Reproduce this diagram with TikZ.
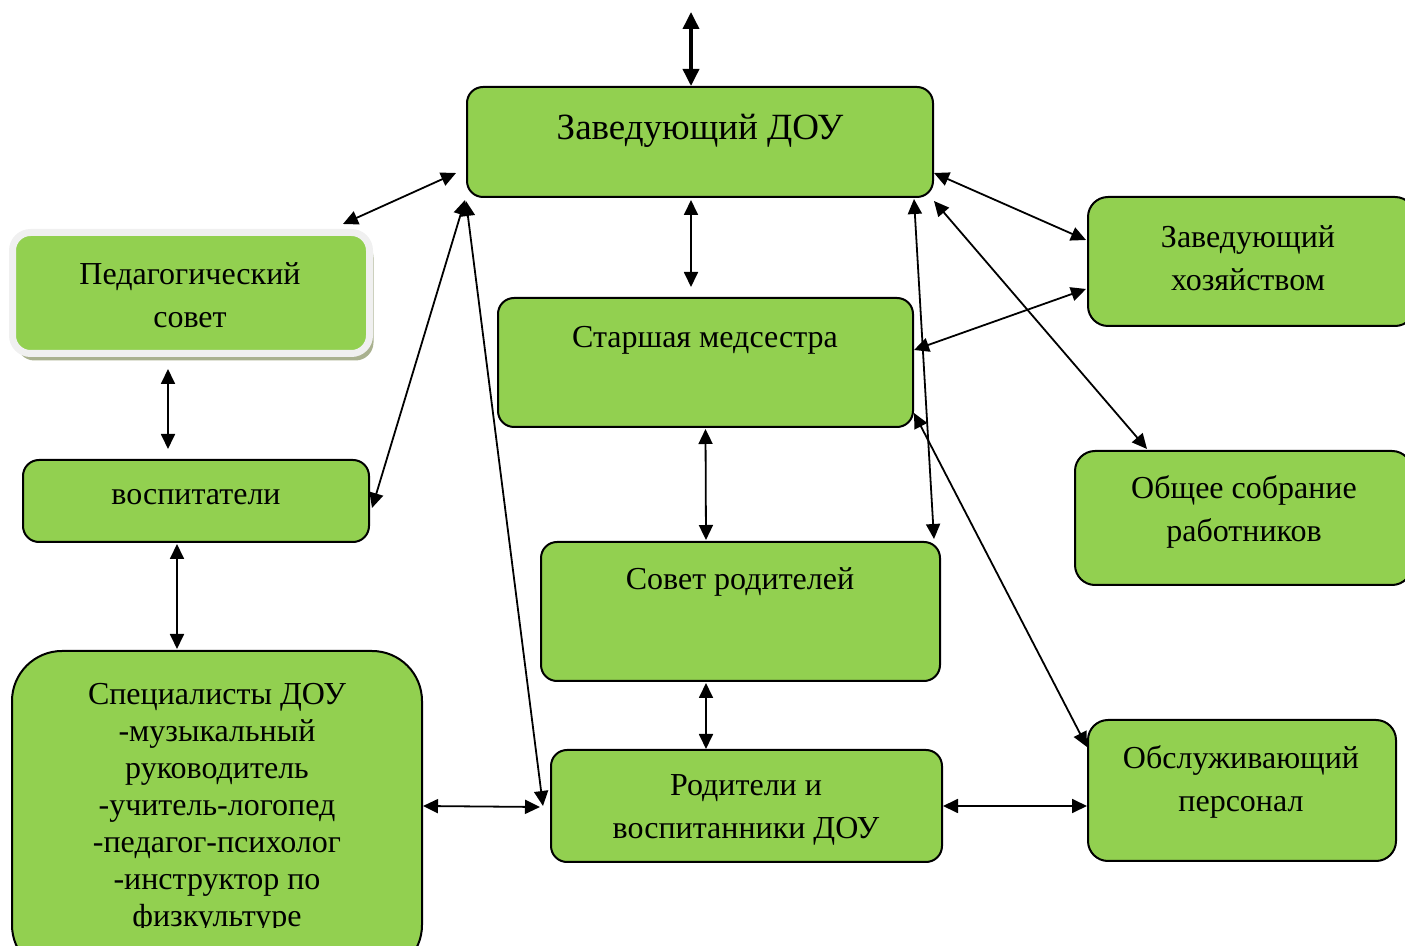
\documentclass[tikz,border=0pt]{standalone}
\usepackage{fontspec}
\setmainfont{Liberation Serif}
\usetikzlibrary{arrows.meta,calc,shadows}
\definecolor{boxgreen}{HTML}{92D050}
\definecolor{pedframe}{HTML}{F0F0F0}
\definecolor{pedshadow}{HTML}{A9B18F}
\tikzset{
  box/.style={draw=black, line width=1pt, fill=boxgreen, rounded corners=8pt, inner sep=0pt},
  txt/.style={align=center, inner sep=0pt, font=\fontsize{16}{21.5}\selectfont},
  link/.style={line width=0.9pt, {Triangle[length=7.5pt,width=7pt]}-{Triangle[length=7.5pt,width=7pt]}},
  thicklink/.style={line width=1.8pt, {Triangle[length=8.5pt,width=8pt]}-{Triangle[length=8.5pt,width=8pt]}}
}
\begin{document}
\begin{tikzpicture}[x=0.5pt,y=-0.5pt]
\useasboundingbox (0,0) rectangle (1405,946);
\clip (0,0) rectangle (1405,946);
% boxes
\node[box, minimum width=233pt, minimum height=55pt] (zav) at (700,142) {};
\node[fill=boxgreen, draw=pedframe, line width=3.5pt, rounded corners=9pt, inner sep=0pt,
      minimum width=178.5pt, minimum height=60.5pt,
      drop shadow={shadow xshift=2pt, shadow yshift=-3.5pt, fill=pedshadow, opacity=1}] (ped) at (191,293) {};
\node[box, minimum width=173pt, minimum height=41pt] (vosp) at (196,501) {};
\node[box, rounded corners=25pt, minimum width=205pt, minimum height=162pt] (spec) at (217,813) {};
\node[box, minimum width=207.5pt, minimum height=64.5pt] (med) at (705.5,362.5) {};
\node[box, minimum width=199.5pt, minimum height=69.5pt] (sov) at (740.5,611.5) {};
\node[box, minimum width=195.5pt, minimum height=56pt] (rod) at (746.5,806) {};
\node[box, rounded corners=10pt, minimum width=163.5pt, minimum height=64.5pt] (hoz) at (1251.5,261.5) {};
\node[box, rounded corners=10pt, minimum width=168.5pt, minimum height=67pt] (obs) at (1243.5,518) {};
\node[box, rounded corners=10pt, minimum width=154pt, minimum height=70.5pt] (obsl) at (1242,790.5) {};
% texts
\node[txt, font=\fontsize{18.5}{22}\selectfont] (tzav) at (700,131) {Заведующий ДОУ};
\node[txt] (tped) at (190,295) {Педагогический\\совет};
\node[txt] (tvosp) at (196,497) {воспитатели};
\node[txt] (tmed) at (705,340) {Старшая медсестра};
\node[txt] (tsov) at (740,582) {Совет родителей};
\node[txt] (trod) at (746,810) {Родители и\\воспитанники ДОУ};
\node[txt] (thoz) at (1248,258) {Заведующий\\хозяйством};
\node[txt] (tobs) at (1244,512) {Общее собрание\\работников};
\node[txt] (tobsl) at (1241,782) {Обслуживающий\\персонал};
\begin{scope}
\clip (0,640) rectangle (440,928);
\node[txt, font=\fontsize{16}{18.5}\selectfont] (tspec) at (217,808) {Специалисты ДОУ\\-музыкальный\\руководитель\\-учитель-логопед\\-педагог-психолог\\-инструктор по\\физкультуре};
\end{scope}
% connectors
\coordinate (top) at (691,12);
\draw[thicklink] (top) -- ($(zav.north)+(-9,0)$);
\draw[link] ($(zav.south west)+(-10,-25)$) -- ($(ped.north east)+(-30,-5)$);
\draw[link] ($(zav.south)+(-9,2)$) -- ($(med.north)+(-14.5,-10)$);
\draw[link] ($(zav.south west)+(-1,2)$) -- ($(vosp.east)+(2,7)$);
\draw[link] ($(zav.south west)+(0,3)$) -- ($(rod.west)+(-7,0)$);
\draw[link] ($(zav.south east)+(-20,1)$) -- ($(sov.north east)+(-7,-2)$);
\draw[link] ($(zav.south east)+(0,-25)$) -- ($(hoz.west)+(-1,-21.5)$);
\draw[link] ($(zav.south east)+(0,3)$) -- ($(obs.north west)+(73,-1)$);
\draw[link] ($(med.east)+(0,-12.5)$) -- ($(hoz.west)+(-1,27.5)$);
\draw[link] ($(med.south east)+(0,-15)$) -- ($(obsl.north west)+(0,28)$);
\draw[link] ($(ped.south)+(-23,12)$) -- ($(vosp.north)+(-28,-10)$);
\draw[link] ($(vosp.south)+(-19,1)$) -- ($(spec.north)+(-40,-1)$);
\draw[link] ($(med.south)+(0,1)$) -- ($(sov.north)+(-34.5,-1)$);
\draw[link] ($(sov.south)+(-34.5,1)$) -- ($(rod.north)+(-40.5,0)$);
\draw[link] ($(spec.east)+(0,-7)$) -- ($(rod.west)+(-10,1)$);
\draw[link] (rod.east) -- ($(obsl.west)+(0,15.5)$);
\end{tikzpicture}
\end{document}
